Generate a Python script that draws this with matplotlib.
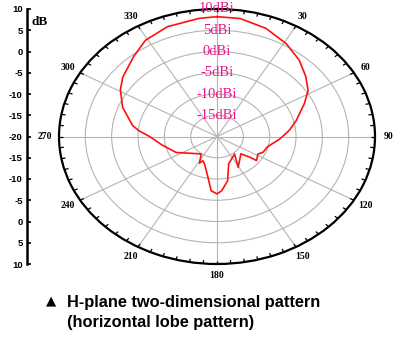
import numpy as np
import matplotlib.pyplot as plt

# H-plane pattern (angle in degrees, gain in dB)
theta_deg = [0, 9, 20, 31, 41, 50, 58, 65, 76, 84, 93, 104, 113, 118, 127, 128, 132,
             151, 141, 161, 169, 176, 180, 185, 191, 200, 205, 208, 216, 224, 244, 259,
             270, 275, 279, 291, 301, 308, 320, 329, 340, 353, 360]
gain_db = [8.2, 8.1, 7.1, 5.5, 3.8, 2.0, 0.4, -1.7, -4.5, -6.2, -8.1, -10.1, -10.5, -11.2,
           -10.6, -12.1, -13.9, -11.7, -14.7, -13.2, -9.4, -7.2, -6.5, -7.2, -10.6, -13.1,
           -13.7, -12.9, -14.9, -14.4, -11.4, -9.4, -7.2, -5.2, -3.8, -0.8, 1.4, 2.7, 4.6,
           6.4, 7.5, 8.0, 8.2]

angle_labels = [30, 60, 90, 120, 150, 180, 210, 240, 270, 300, 330]
ring_values = [10, 5, 0, -5, -10, -15]
ring_labels = ['10dBi', '5dBi', '0dBi', '-5dBi', '-10dBi', '-15dBi']
left_ticks = [10, 5, 0, -5, -10, -15, -20, -15, -10, -5, 0, 5, 10]

r_min, r_max = -20, 10
pink = '#e8178a'

fig = plt.figure(figsize=(3.94, 3.38), dpi=100)
W, H = 394, 338

# polar plot, stretched into an ellipse like the original
x0, x1, y0, y1 = 59, 375, 9, 264
ax = fig.add_axes([x0 / W, 1 - y1 / H, (x1 - x0) / W, (y1 - y0) / H], projection='polar')
ax.set_aspect('auto')
ax.set_theta_zero_location('N')
ax.set_theta_direction(-1)
ax.set_rlim(r_min, r_max)
ax.set_rticks([-15, -10, -5, 0, 5])
ax.set_yticklabels([])
ax.set_xticks(np.deg2rad(np.arange(0, 360, 30)))
ax.set_xticklabels([])
ax.tick_params(axis='x', length=0)
ax.grid(True, color='#b4b4b4', linewidth=0.8)
ax.spines['polar'].set_linewidth(1.6)
ax.spines['polar'].set_color('black')

# small inward ticks on the rim every 5 degrees
rim = np.deg2rad(np.arange(0, 360, 5))
ax.vlines(rim, r_max - 0.8, r_max, color='black', linewidth=0.9, zorder=4)
ax.set_rlim(r_min, r_max)

ax.plot(np.deg2rad(theta_deg), gain_db, color='#ff1010', linewidth=1.2, zorder=5)

for a in angle_labels:
    ax.text(np.deg2rad(a), r_max + 2.6, str(a), ha='center', va='center',
            fontsize=7, fontweight='bold', family='Liberation Serif', clip_on=False)

for v, lab in zip(ring_values, ring_labels):
    ax.text(0, v, lab, ha='center', va='center', color=pink, fontsize=10.5,
            family='Liberation Serif', zorder=6, clip_on=False)

# left dB scale
axl = fig.add_axes([27 / W, 1 - y1 / H, 0.001, (y1 - y0) / H])
pos = [v - r_min if i < 6 else -(v - r_min) for i, v in enumerate(left_ticks)]
axl.set_ylim(-(r_max - r_min), r_max - r_min)
axl.set_yticks(pos)
axl.set_yticklabels([str(v) for v in left_ticks])
axl.set_xticks([])
for s in ['top', 'right', 'bottom']:
    axl.spines[s].set_visible(False)
axl.spines['left'].set_linewidth(1.8)
axl.tick_params(axis='y', direction='in', length=3, width=1.2, pad=3, labelsize=6.8)
for t in axl.get_yticklabels():
    t.set_fontweight('bold')
    t.set_family('Liberation Sans')
fig.text(32 / W, 1 - 22 / H, 'dB', fontsize=9.5, fontweight='bold', family='Liberation Serif',
         ha='left', va='center')

# caption
fig.text(46 / W, 1 - 301 / H, '\u25b2', fontsize=9.5, family=['DejaVu Sans'],
         ha='left', va='center')
fig.text(67 / W, 1 - 302 / H, 'H-plane two-dimensional pattern', fontsize=11.8,
         fontweight='bold', family=['Liberation Sans', 'DejaVu Sans'], ha='left', va='center')
fig.text(67 / W, 1 - 323 / H, '(horizontal lobe pattern)', fontsize=11.8,
         fontweight='bold', family=['Liberation Sans', 'DejaVu Sans'], ha='left', va='center')

fig.savefig('out.png', dpi=100, facecolor='white')
